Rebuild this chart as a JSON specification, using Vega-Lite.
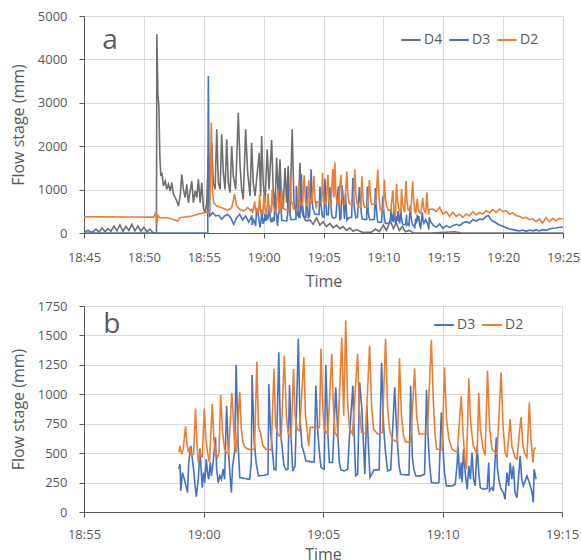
{
  "$schema": "https://vega.github.io/schema/vega-lite/v6.json",
  "padding": {"left": 10, "top": 10, "right": 2, "bottom": 2},
  "spacing": 11,
  "config": {
    "view": {"stroke": null},
    "axis": {"labelFont": "Open Sans", "labelFontSize": 13, "labelColor": "#595959", "titleFont": "Open Sans", "titleFontSize": 16, "titleFontWeight": "normal", "titleColor": "#595959", "gridColor": "#d9d9d9", "domainColor": "#595959", "tickColor": "#595959", "tickSize": 5, "labelFlush": false, "labelOverlap": false},
    "legend": {"labelFont": "Open Sans", "labelFontSize": 14, "labelColor": "#595959", "symbolType": "stroke", "symbolStrokeWidth": 2, "symbolSize": 380, "labelOffset": 2, "columnPadding": 2}
  },
  "resolve": {"scale": {"color": "independent"}},
  "vconcat": [
    {
      "width": 479, "height": 217,
      "data": {"name": "flow"},
      "encoding": {
        "x": {"field": "t", "type": "temporal", "scale": {"domain": [{"year": 2024, "month": 1, "date": 1, "hours": 18, "minutes": 45}, {"year": 2024, "month": 1, "date": 1, "hours": 19, "minutes": 25}]}, "axis": {"title": "Time", "format": "%H:%M", "tickCount": 8, "labelPadding": 13, "titlePadding": 9}},
        "y": {"field": "v", "type": "quantitative", "scale": {"domain": [0, 5000], "nice": false}, "axis": {"title": "Flow stage (mm)", "values": [0, 1000, 2000, 3000, 4000, 5000], "format": "d", "labelPadding": 12, "titlePadding": 11}}
      },
      "layer": [
        {"transform": [{"filter": "datum.s == 'D4'"}], "mark": {"type": "line", "strokeWidth": 1.6}, "encoding": {"color": {"field": "s", "type": "nominal", "scale": {"domain": ["D4", "D3", "D2"], "range": ["#6f6f6f", "#4472c4", "#ed7d31"]}, "legend": {"title": null, "orient": "none", "direction": "horizontal", "legendX": 316, "legendY": 13}}}},
        {"transform": [{"filter": "datum.s == 'D3'"}], "mark": {"type": "line", "strokeWidth": 1.6}, "encoding": {"color": {"field": "s", "type": "nominal"}}},
        {"transform": [{"filter": "datum.s == 'D2'"}], "mark": {"type": "line", "strokeWidth": 1.6}, "encoding": {"color": {"field": "s", "type": "nominal"}}},
        {"data": {"values": [{"t": "2024-01-01T18:47:10", "v": 4240, "label": "a"}]}, "mark": {"type": "text", "font": "Open Sans", "fontSize": 28, "color": "#595959", "align": "center", "baseline": "alphabetic"}, "encoding": {"text": {"field": "label", "type": "nominal"}}}
      ]
    },
    {
      "width": 478, "height": 206,
      "data": {"name": "flow"},
      "encoding": {
        "x": {"field": "t", "type": "temporal", "scale": {"domain": [{"year": 2024, "month": 1, "date": 1, "hours": 18, "minutes": 55}, {"year": 2024, "month": 1, "date": 1, "hours": 19, "minutes": 15}]}, "axis": {"title": "Time", "format": "%H:%M", "tickCount": 4, "labelPadding": 11, "titlePadding": 5}},
        "y": {"field": "v", "type": "quantitative", "scale": {"domain": [0, 1750], "nice": false}, "axis": {"title": "Flow stage (mm)", "values": [0, 250, 500, 750, 1000, 1250, 1500, 1750], "format": "d", "labelPadding": 12, "titlePadding": 11}}
      },
      "layer": [
        {"transform": [{"filter": "datum.s == 'D3' && time(toDate(datum.t)) >= time(datetime(2024, 0, 1, 18, 58, 55, 0)) && time(toDate(datum.t)) <= time(datetime(2024, 0, 1, 19, 13, 57, 0))"}], "mark": {"type": "line", "strokeWidth": 1.6}, "encoding": {"color": {"field": "s", "type": "nominal", "scale": {"domain": ["D3", "D2"], "range": ["#4472c4", "#ed7d31"]}, "legend": {"title": null, "orient": "none", "direction": "horizontal", "legendX": 349, "legendY": 8}}}},
        {"transform": [{"filter": "datum.s == 'D2' && time(toDate(datum.t)) >= time(datetime(2024, 0, 1, 18, 58, 55, 0)) && time(toDate(datum.t)) <= time(datetime(2024, 0, 1, 19, 13, 57, 0))"}], "mark": {"type": "line", "strokeWidth": 1.6}, "encoding": {"color": {"field": "s", "type": "nominal"}}},
        {"data": {"values": [{"t": "2024-01-01T18:56:10", "v": 1521, "label": "b"}]}, "mark": {"type": "text", "font": "Open Sans", "fontSize": 28, "color": "#595959", "align": "center", "baseline": "alphabetic"}, "encoding": {"text": {"field": "label", "type": "nominal"}}}
      ]
    }
  ],
  "datasets": {
    "flow": [
      {"s":"D4","t":"2024-01-01T18:45:00","v":20},{"s":"D4","t":"2024-01-01T18:45:20","v":60},{"s":"D4","t":"2024-01-01T18:45:40","v":10},{"s":"D4","t":"2024-01-01T18:46:00","v":90},{"s":"D4","t":"2024-01-01T18:46:15","v":20},{"s":"D4","t":"2024-01-01T18:46:30","v":120},{"s":"D4","t":"2024-01-01T18:46:45","v":30},{"s":"D4","t":"2024-01-01T18:47:00","v":100},{"s":"D4","t":"2024-01-01T18:47:15","v":40},{"s":"D4","t":"2024-01-01T18:47:30","v":160},{"s":"D4","t":"2024-01-01T18:47:45","v":50},{"s":"D4","t":"2024-01-01T18:48:00","v":190},{"s":"D4","t":"2024-01-01T18:48:15","v":40},{"s":"D4","t":"2024-01-01T18:48:30","v":150},{"s":"D4","t":"2024-01-01T18:48:45","v":60},{"s":"D4","t":"2024-01-01T18:49:00","v":200},{"s":"D4","t":"2024-01-01T18:49:15","v":50},{"s":"D4","t":"2024-01-01T18:49:30","v":160},{"s":"D4","t":"2024-01-01T18:49:45","v":40},{"s":"D4","t":"2024-01-01T18:50:00","v":130},{"s":"D4","t":"2024-01-01T18:50:15","v":30},{"s":"D4","t":"2024-01-01T18:50:30","v":90},{"s":"D4","t":"2024-01-01T18:50:45","v":10},{"s":"D4","t":"2024-01-01T18:51:00","v":0},{"s":"D4","t":"2024-01-01T18:51:03","v":0},
      {"s":"D4","t":"2024-01-01T18:51:05","v":4577},{"s":"D4","t":"2024-01-01T18:51:10","v":3233},{"s":"D4","t":"2024-01-01T18:51:15","v":2926},{"s":"D4","t":"2024-01-01T18:51:20","v":1774},{"s":"D4","t":"2024-01-01T18:51:25","v":1313},{"s":"D4","t":"2024-01-01T18:51:30","v":1390},{"s":"D4","t":"2024-01-01T18:51:38","v":1083},{"s":"D4","t":"2024-01-01T18:51:47","v":1198},{"s":"D4","t":"2024-01-01T18:51:55","v":1006},{"s":"D4","t":"2024-01-01T18:52:03","v":1121},{"s":"D4","t":"2024-01-01T18:52:12","v":968},{"s":"D4","t":"2024-01-01T18:52:20","v":1160},{"s":"D4","t":"2024-01-01T18:52:28","v":891},{"s":"D4","t":"2024-01-01T18:52:37","v":814},{"s":"D4","t":"2024-01-01T18:52:45","v":737},{"s":"D4","t":"2024-01-01T18:52:53","v":622},{"s":"D4","t":"2024-01-01T18:53:02","v":852},{"s":"D4","t":"2024-01-01T18:53:10","v":1352},{"s":"D4","t":"2024-01-01T18:53:18","v":1006},{"s":"D4","t":"2024-01-01T18:53:27","v":814},{"s":"D4","t":"2024-01-01T18:53:35","v":1121},{"s":"D4","t":"2024-01-01T18:53:43","v":699},{"s":"D4","t":"2024-01-01T18:53:52","v":968},{"s":"D4","t":"2024-01-01T18:54:00","v":1198},{"s":"D4","t":"2024-01-01T18:54:08","v":699},{"s":"D4","t":"2024-01-01T18:54:17","v":968},{"s":"D4","t":"2024-01-01T18:54:25","v":814},{"s":"D4","t":"2024-01-01T18:54:33","v":1236},{"s":"D4","t":"2024-01-01T18:54:42","v":699},{"s":"D4","t":"2024-01-01T18:54:50","v":1160},{"s":"D4","t":"2024-01-01T18:54:58","v":584},{"s":"D4","t":"2024-01-01T18:55:07","v":468},{"s":"D4","t":"2024-01-01T18:55:15","v":699},{"s":"D4","t":"2024-01-01T18:55:23","v":1774},{"s":"D4","t":"2024-01-01T18:55:32","v":1006},{"s":"D4","t":"2024-01-01T18:55:40","v":2081},{"s":"D4","t":"2024-01-01T18:55:48","v":1160},{"s":"D4","t":"2024-01-01T18:55:57","v":1006},{"s":"D4","t":"2024-01-01T18:56:05","v":2388},{"s":"D4","t":"2024-01-01T18:56:13","v":1160},{"s":"D4","t":"2024-01-01T18:56:22","v":1006},{"s":"D4","t":"2024-01-01T18:56:30","v":2273},{"s":"D4","t":"2024-01-01T18:56:38","v":1390},{"s":"D4","t":"2024-01-01T18:56:47","v":1006},{"s":"D4","t":"2024-01-01T18:56:55","v":2158},{"s":"D4","t":"2024-01-01T18:57:03","v":1160},{"s":"D4","t":"2024-01-01T18:57:12","v":929},{"s":"D4","t":"2024-01-01T18:57:20","v":2004},{"s":"D4","t":"2024-01-01T18:57:28","v":1313},{"s":"D4","t":"2024-01-01T18:57:40","v":1006},{"s":"D4","t":"2024-01-01T18:57:53","v":2772},{"s":"D4","t":"2024-01-01T18:58:02","v":1544},{"s":"D4","t":"2024-01-01T18:58:10","v":1006},{"s":"D4","t":"2024-01-01T18:58:18","v":776},{"s":"D4","t":"2024-01-01T18:58:30","v":2388},{"s":"D4","t":"2024-01-01T18:58:40","v":1390},{"s":"D4","t":"2024-01-01T18:58:52","v":852},{"s":"D4","t":"2024-01-01T18:59:00","v":2081},{"s":"D4","t":"2024-01-01T18:59:08","v":1160},{"s":"D4","t":"2024-01-01T18:59:17","v":852},
      {"s":"D4","t":"2024-01-01T18:59:38","v":1851},{"s":"D4","t":"2024-01-01T18:59:45","v":852},{"s":"D4","t":"2024-01-01T18:59:50","v":2235},{"s":"D4","t":"2024-01-01T18:59:58","v":1160},{"s":"D4","t":"2024-01-01T19:00:07","v":699},{"s":"D4","t":"2024-01-01T19:00:18","v":1928},{"s":"D4","t":"2024-01-01T19:00:27","v":1006},{"s":"D4","t":"2024-01-01T19:00:40","v":2143},{"s":"D4","t":"2024-01-01T19:00:48","v":1006},{"s":"D4","t":"2024-01-01T19:00:57","v":545},{"s":"D4","t":"2024-01-01T19:01:05","v":1736},{"s":"D4","t":"2024-01-01T19:01:13","v":852},{"s":"D4","t":"2024-01-01T19:01:22","v":1697},{"s":"D4","t":"2024-01-01T19:01:30","v":699},{"s":"D4","t":"2024-01-01T19:01:38","v":545},{"s":"D4","t":"2024-01-01T19:01:47","v":1505},{"s":"D4","t":"2024-01-01T19:01:55","v":699},{"s":"D4","t":"2024-01-01T19:02:03","v":1544},{"s":"D4","t":"2024-01-01T19:02:12","v":468},{"s":"D4","t":"2024-01-01T19:02:23","v":2388},{"s":"D4","t":"2024-01-01T19:02:32","v":699},{"s":"D4","t":"2024-01-01T19:02:42","v":468},{"s":"D4","t":"2024-01-01T19:02:53","v":392},{"s":"D4","t":"2024-01-01T19:03:02","v":1620},{"s":"D4","t":"2024-01-01T19:03:10","v":545},{"s":"D4","t":"2024-01-01T19:03:18","v":392},{"s":"D4","t":"2024-01-01T19:03:27","v":315},{"s":"D4","t":"2024-01-01T19:03:35","v":276},{"s":"D4","t":"2024-01-01T19:03:52","v":300},{"s":"D4","t":"2024-01-01T19:04:08","v":200},{"s":"D4","t":"2024-01-01T19:04:25","v":350},{"s":"D4","t":"2024-01-01T19:04:42","v":180},{"s":"D4","t":"2024-01-01T19:04:58","v":260},{"s":"D4","t":"2024-01-01T19:05:15","v":150},{"s":"D4","t":"2024-01-01T19:05:32","v":220},{"s":"D4","t":"2024-01-01T19:05:48","v":120},{"s":"D4","t":"2024-01-01T19:06:05","v":180},{"s":"D4","t":"2024-01-01T19:06:22","v":100},{"s":"D4","t":"2024-01-01T19:06:38","v":150},{"s":"D4","t":"2024-01-01T19:06:55","v":60},{"s":"D4","t":"2024-01-01T19:07:12","v":120},{"s":"D4","t":"2024-01-01T19:07:28","v":40},{"s":"D4","t":"2024-01-01T19:07:45","v":80},{"s":"D4","t":"2024-01-01T19:08:18","v":10},{"s":"D4","t":"2024-01-01T19:09:00","v":20},{"s":"D4","t":"2024-01-01T19:09:20","v":92},{"s":"D4","t":"2024-01-01T19:09:40","v":30},{"s":"D4","t":"2024-01-01T19:10:00","v":184},{"s":"D4","t":"2024-01-01T19:10:15","v":60},{"s":"D4","t":"2024-01-01T19:10:35","v":284},{"s":"D4","t":"2024-01-01T19:10:50","v":100},{"s":"D4","t":"2024-01-01T19:11:05","v":230},{"s":"D4","t":"2024-01-01T19:11:20","v":60},{"s":"D4","t":"2024-01-01T19:11:35","v":150},{"s":"D4","t":"2024-01-01T19:11:50","v":30},{"s":"D4","t":"2024-01-01T19:12:10","v":60},{"s":"D4","t":"2024-01-01T19:12:30","v":0},{"s":"D4","t":"2024-01-01T19:14:00","v":0},{"s":"D4","t":"2024-01-01T19:16:00","v":30},{"s":"D4","t":"2024-01-01T19:16:30","v":0},{"s":"D4","t":"2024-01-01T19:25:00","v":0},

      {"s":"D3","t":"2024-01-01T18:45:00","v":0},{"s":"D3","t":"2024-01-01T18:51:00","v":0},{"s":"D3","t":"2024-01-01T18:55:20","v":0},{"s":"D3","t":"2024-01-01T18:55:23","v":3617},{"s":"D3","t":"2024-01-01T18:55:27","v":1006},{"s":"D3","t":"2024-01-01T18:55:30","v":392},{"s":"D3","t":"2024-01-01T18:55:45","v":468},{"s":"D3","t":"2024-01-01T18:56:00","v":392},{"s":"D3","t":"2024-01-01T18:56:15","v":407},{"s":"D3","t":"2024-01-01T18:56:30","v":315},{"s":"D3","t":"2024-01-01T18:56:45","v":392},{"s":"D3","t":"2024-01-01T18:57:00","v":430},{"s":"D3","t":"2024-01-01T18:57:15","v":353},{"s":"D3","t":"2024-01-01T18:57:30","v":200},{"s":"D3","t":"2024-01-01T18:57:45","v":353},{"s":"D3","t":"2024-01-01T18:58:00","v":430},{"s":"D3","t":"2024-01-01T18:58:15","v":300},{"s":"D3","t":"2024-01-01T18:58:30","v":392},{"s":"D3","t":"2024-01-01T18:58:45","v":253},
      {"s":"D3","t":"2024-01-01T18:58:58","v":364},{"s":"D3","t":"2024-01-01T18:59:01","v":406},{"s":"D3","t":"2024-01-01T18:59:03","v":179},{"s":"D3","t":"2024-01-01T18:59:07","v":335},{"s":"D3","t":"2024-01-01T18:59:12","v":278},{"s":"D3","t":"2024-01-01T18:59:16","v":222},{"s":"D3","t":"2024-01-01T18:59:20","v":165},{"s":"D3","t":"2024-01-01T18:59:23","v":420},{"s":"D3","t":"2024-01-01T18:59:28","v":562},{"s":"D3","t":"2024-01-01T18:59:32","v":449},{"s":"D3","t":"2024-01-01T18:59:35","v":364},{"s":"D3","t":"2024-01-01T18:59:38","v":250},{"s":"D3","t":"2024-01-01T18:59:42","v":131},{"s":"D3","t":"2024-01-01T18:59:47","v":278},{"s":"D3","t":"2024-01-01T18:59:51","v":540},{"s":"D3","t":"2024-01-01T18:59:53","v":420},{"s":"D3","t":"2024-01-01T18:59:57","v":207},{"s":"D3","t":"2024-01-01T19:00:00","v":335},{"s":"D3","t":"2024-01-01T19:00:03","v":250},{"s":"D3","t":"2024-01-01T19:00:07","v":449},{"s":"D3","t":"2024-01-01T19:00:10","v":335},{"s":"D3","t":"2024-01-01T19:00:13","v":278},{"s":"D3","t":"2024-01-01T19:00:17","v":420},{"s":"D3","t":"2024-01-01T19:00:20","v":307},{"s":"D3","t":"2024-01-01T19:00:24","v":420},{"s":"D3","t":"2024-01-01T19:00:30","v":633},{"s":"D3","t":"2024-01-01T19:00:33","v":364},{"s":"D3","t":"2024-01-01T19:00:37","v":250},{"s":"D3","t":"2024-01-01T19:00:41","v":307},{"s":"D3","t":"2024-01-01T19:00:45","v":278},{"s":"D3","t":"2024-01-01T19:00:49","v":364},{"s":"D3","t":"2024-01-01T19:00:53","v":278},{"s":"D3","t":"2024-01-01T19:00:58","v":903},{"s":"D3","t":"2024-01-01T19:01:02","v":562},{"s":"D3","t":"2024-01-01T19:01:06","v":335},{"s":"D3","t":"2024-01-01T19:01:10","v":165},{"s":"D3","t":"2024-01-01T19:01:13","v":392},{"s":"D3","t":"2024-01-01T19:01:18","v":506},{"s":"D3","t":"2024-01-01T19:01:22","v":1250},{"s":"D3","t":"2024-01-01T19:01:27","v":562},{"s":"D3","t":"2024-01-01T19:01:31","v":293},{"s":"D3","t":"2024-01-01T19:01:43","v":284},{"s":"D3","t":"2024-01-01T19:01:56","v":278},{"s":"D3","t":"2024-01-01T19:02:00","v":420},{"s":"D3","t":"2024-01-01T19:02:02","v":1164},{"s":"D3","t":"2024-01-01T19:02:07","v":619},{"s":"D3","t":"2024-01-01T19:02:12","v":420},{"s":"D3","t":"2024-01-01T19:02:18","v":307},{"s":"D3","t":"2024-01-01T19:02:33","v":312},{"s":"D3","t":"2024-01-01T19:02:42","v":321},{"s":"D3","t":"2024-01-01T19:02:44","v":1088},{"s":"D3","t":"2024-01-01T19:02:48","v":704},{"s":"D3","t":"2024-01-01T19:02:52","v":562},{"s":"D3","t":"2024-01-01T19:02:57","v":364},{"s":"D3","t":"2024-01-01T19:03:02","v":358},{"s":"D3","t":"2024-01-01T19:03:09","v":1358},{"s":"D3","t":"2024-01-01T19:03:13","v":676},{"s":"D3","t":"2024-01-01T19:03:17","v":562},{"s":"D3","t":"2024-01-01T19:03:22","v":392},{"s":"D3","t":"2024-01-01T19:03:27","v":358},{"s":"D3","t":"2024-01-01T19:03:32","v":364},{"s":"D3","t":"2024-01-01T19:03:36","v":1079},{"s":"D3","t":"2024-01-01T19:03:40","v":619},{"s":"D3","t":"2024-01-01T19:03:44","v":349},
      {"s":"D3","t":"2024-01-01T19:03:50","v":392},{"s":"D3","t":"2024-01-01T19:03:58","v":1471},{"s":"D3","t":"2024-01-01T19:04:02","v":818},{"s":"D3","t":"2024-01-01T19:04:07","v":562},{"s":"D3","t":"2024-01-01T19:04:12","v":506},{"s":"D3","t":"2024-01-01T19:04:17","v":434},{"s":"D3","t":"2024-01-01T19:04:30","v":426},{"s":"D3","t":"2024-01-01T19:04:38","v":426},{"s":"D3","t":"2024-01-01T19:04:42","v":1073},{"s":"D3","t":"2024-01-01T19:04:47","v":676},{"s":"D3","t":"2024-01-01T19:04:51","v":506},{"s":"D3","t":"2024-01-01T19:04:55","v":378},{"s":"D3","t":"2024-01-01T19:05:03","v":364},{"s":"D3","t":"2024-01-01T19:05:07","v":1250},{"s":"D3","t":"2024-01-01T19:05:12","v":676},{"s":"D3","t":"2024-01-01T19:05:16","v":420},{"s":"D3","t":"2024-01-01T19:05:24","v":420},{"s":"D3","t":"2024-01-01T19:05:32","v":1059},{"s":"D3","t":"2024-01-01T19:05:37","v":676},{"s":"D3","t":"2024-01-01T19:05:41","v":420},{"s":"D3","t":"2024-01-01T19:05:45","v":358},{"s":"D3","t":"2024-01-01T19:05:53","v":349},{"s":"D3","t":"2024-01-01T19:06:02","v":364},{"s":"D3","t":"2024-01-01T19:06:06","v":619},{"s":"D3","t":"2024-01-01T19:06:15","v":1073},{"s":"D3","t":"2024-01-01T19:06:18","v":676},{"s":"D3","t":"2024-01-01T19:06:22","v":307},{"s":"D3","t":"2024-01-01T19:06:27","v":321},{"s":"D3","t":"2024-01-01T19:06:32","v":1102},{"s":"D3","t":"2024-01-01T19:06:37","v":903},{"s":"D3","t":"2024-01-01T19:06:41","v":619},{"s":"D3","t":"2024-01-01T19:06:45","v":321},{"s":"D3","t":"2024-01-01T19:06:50","v":903},{"s":"D3","t":"2024-01-01T19:06:54","v":562},{"s":"D3","t":"2024-01-01T19:06:58","v":293},{"s":"D3","t":"2024-01-01T19:07:08","v":358},{"s":"D3","t":"2024-01-01T19:07:21","v":358},{"s":"D3","t":"2024-01-01T19:07:27","v":1267},{"s":"D3","t":"2024-01-01T19:07:32","v":733},{"s":"D3","t":"2024-01-01T19:07:37","v":506},{"s":"D3","t":"2024-01-01T19:07:42","v":349},{"s":"D3","t":"2024-01-01T19:07:50","v":358},{"s":"D3","t":"2024-01-01T19:08:00","v":1059},{"s":"D3","t":"2024-01-01T19:08:05","v":676},{"s":"D3","t":"2024-01-01T19:08:11","v":392},{"s":"D3","t":"2024-01-01T19:08:15","v":321},{"s":"D3","t":"2024-01-01T19:08:27","v":315},{"s":"D3","t":"2024-01-01T19:08:36","v":315},{"s":"D3","t":"2024-01-01T19:08:40","v":1073},
      {"s":"D3","t":"2024-01-01T19:08:44","v":477},{"s":"D3","t":"2024-01-01T19:08:48","v":364},{"s":"D3","t":"2024-01-01T19:08:53","v":307},{"s":"D3","t":"2024-01-01T19:09:05","v":307},{"s":"D3","t":"2024-01-01T19:09:15","v":321},{"s":"D3","t":"2024-01-01T19:09:20","v":1039},{"s":"D3","t":"2024-01-01T19:09:23","v":676},{"s":"D3","t":"2024-01-01T19:09:28","v":392},{"s":"D3","t":"2024-01-01T19:09:32","v":250},{"s":"D3","t":"2024-01-01T19:09:43","v":244},{"s":"D3","t":"2024-01-01T19:09:51","v":250},{"s":"D3","t":"2024-01-01T19:09:57","v":846},{"s":"D3","t":"2024-01-01T19:10:01","v":562},{"s":"D3","t":"2024-01-01T19:10:05","v":335},{"s":"D3","t":"2024-01-01T19:10:10","v":222},{"s":"D3","t":"2024-01-01T19:10:24","v":222},{"s":"D3","t":"2024-01-01T19:10:32","v":236},{"s":"D3","t":"2024-01-01T19:10:37","v":420},{"s":"D3","t":"2024-01-01T19:10:39","v":562},{"s":"D3","t":"2024-01-01T19:10:43","v":278},{"s":"D3","t":"2024-01-01T19:10:47","v":420},{"s":"D3","t":"2024-01-01T19:10:49","v":250},{"s":"D3","t":"2024-01-01T19:10:53","v":534},{"s":"D3","t":"2024-01-01T19:10:57","v":335},{"s":"D3","t":"2024-01-01T19:11:02","v":193},{"s":"D3","t":"2024-01-01T19:11:06","v":392},{"s":"D3","t":"2024-01-01T19:11:10","v":278},{"s":"D3","t":"2024-01-01T19:11:14","v":506},{"s":"D3","t":"2024-01-01T19:11:18","v":278},{"s":"D3","t":"2024-01-01T19:11:22","v":222},{"s":"D3","t":"2024-01-01T19:11:27","v":562},{"s":"D3","t":"2024-01-01T19:11:31","v":335},{"s":"D3","t":"2024-01-01T19:11:35","v":207},{"s":"D3","t":"2024-01-01T19:11:43","v":193},{"s":"D3","t":"2024-01-01T19:11:52","v":199},{"s":"D3","t":"2024-01-01T19:11:56","v":420},{"s":"D3","t":"2024-01-01T19:11:58","v":179},{"s":"D3","t":"2024-01-01T19:12:04","v":207},{"s":"D3","t":"2024-01-01T19:12:08","v":179},{"s":"D3","t":"2024-01-01T19:12:15","v":633},{"s":"D3","t":"2024-01-01T19:12:18","v":364},{"s":"D3","t":"2024-01-01T19:12:23","v":250},{"s":"D3","t":"2024-01-01T19:12:27","v":193},{"s":"D3","t":"2024-01-01T19:12:33","v":165},{"s":"D3","t":"2024-01-01T19:12:37","v":108},{"s":"D3","t":"2024-01-01T19:12:42","v":335},{"s":"D3","t":"2024-01-01T19:12:46","v":222},{"s":"D3","t":"2024-01-01T19:12:50","v":420},{"s":"D3","t":"2024-01-01T19:12:54","v":278},{"s":"D3","t":"2024-01-01T19:12:58","v":392},{"s":"D3","t":"2024-01-01T19:13:02","v":165},{"s":"D3","t":"2024-01-01T19:13:07","v":122},{"s":"D3","t":"2024-01-01T19:13:15","v":477},{"s":"D3","t":"2024-01-01T19:13:19","v":278},{"s":"D3","t":"2024-01-01T19:13:23","v":222},{"s":"D3","t":"2024-01-01T19:13:32","v":307},{"s":"D3","t":"2024-01-01T19:13:38","v":250},{"s":"D3","t":"2024-01-01T19:13:44","v":179},{"s":"D3","t":"2024-01-01T19:13:48","v":80},{"s":"D3","t":"2024-01-01T19:13:50","v":364},{"s":"D3","t":"2024-01-01T19:13:55","v":278},
      {"s":"D3","t":"2024-01-01T19:14:08","v":184},{"s":"D3","t":"2024-01-01T19:14:25","v":131},{"s":"D3","t":"2024-01-01T19:14:42","v":207},{"s":"D3","t":"2024-01-01T19:14:58","v":108},{"s":"D3","t":"2024-01-01T19:15:15","v":169},{"s":"D3","t":"2024-01-01T19:15:32","v":123},{"s":"D3","t":"2024-01-01T19:15:48","v":169},{"s":"D3","t":"2024-01-01T19:16:05","v":200},{"s":"D3","t":"2024-01-01T19:16:22","v":169},{"s":"D3","t":"2024-01-01T19:16:38","v":230},{"s":"D3","t":"2024-01-01T19:16:55","v":261},{"s":"D3","t":"2024-01-01T19:17:12","v":230},{"s":"D3","t":"2024-01-01T19:17:28","v":307},{"s":"D3","t":"2024-01-01T19:17:45","v":276},{"s":"D3","t":"2024-01-01T19:18:02","v":323},{"s":"D3","t":"2024-01-01T19:18:18","v":307},{"s":"D3","t":"2024-01-01T19:18:35","v":384},{"s":"D3","t":"2024-01-01T19:18:47","v":399},{"s":"D3","t":"2024-01-01T19:18:57","v":323},{"s":"D3","t":"2024-01-01T19:19:08","v":276},{"s":"D3","t":"2024-01-01T19:19:25","v":230},{"s":"D3","t":"2024-01-01T19:19:42","v":184},{"s":"D3","t":"2024-01-01T19:19:58","v":154},{"s":"D3","t":"2024-01-01T19:20:15","v":123},{"s":"D3","t":"2024-01-01T19:20:32","v":92},{"s":"D3","t":"2024-01-01T19:20:48","v":77},{"s":"D3","t":"2024-01-01T19:21:05","v":61},{"s":"D3","t":"2024-01-01T19:21:22","v":46},{"s":"D3","t":"2024-01-01T19:21:38","v":69},{"s":"D3","t":"2024-01-01T19:21:55","v":38},{"s":"D3","t":"2024-01-01T19:22:12","v":69},{"s":"D3","t":"2024-01-01T19:22:28","v":46},{"s":"D3","t":"2024-01-01T19:22:45","v":77},{"s":"D3","t":"2024-01-01T19:23:02","v":46},{"s":"D3","t":"2024-01-01T19:23:18","v":77},{"s":"D3","t":"2024-01-01T19:23:35","v":61},{"s":"D3","t":"2024-01-01T19:23:52","v":92},{"s":"D3","t":"2024-01-01T19:24:08","v":108},{"s":"D3","t":"2024-01-01T19:24:25","v":115},{"s":"D3","t":"2024-01-01T19:24:42","v":131},{"s":"D3","t":"2024-01-01T19:25:00","v":138},

      {"s":"D2","t":"2024-01-01T18:45:00","v":375},{"s":"D2","t":"2024-01-01T18:47:00","v":372},{"s":"D2","t":"2024-01-01T18:49:00","v":370},{"s":"D2","t":"2024-01-01T18:50:50","v":365},{"s":"D2","t":"2024-01-01T18:51:00","v":468},{"s":"D2","t":"2024-01-01T18:51:05","v":200},{"s":"D2","t":"2024-01-01T18:51:10","v":407},{"s":"D2","t":"2024-01-01T18:51:20","v":353},{"s":"D2","t":"2024-01-01T18:52:00","v":353},{"s":"D2","t":"2024-01-01T18:52:50","v":276},{"s":"D2","t":"2024-01-01T18:53:00","v":353},{"s":"D2","t":"2024-01-01T18:54:00","v":392},{"s":"D2","t":"2024-01-01T18:54:30","v":430},{"s":"D2","t":"2024-01-01T18:55:00","v":468},{"s":"D2","t":"2024-01-01T18:55:30","v":484},{"s":"D2","t":"2024-01-01T18:55:38","v":2542},{"s":"D2","t":"2024-01-01T18:55:43","v":1006},{"s":"D2","t":"2024-01-01T18:55:50","v":699},{"s":"D2","t":"2024-01-01T18:56:05","v":622},{"s":"D2","t":"2024-01-01T18:56:30","v":584},{"s":"D2","t":"2024-01-01T18:57:00","v":522},{"s":"D2","t":"2024-01-01T18:57:20","v":584},{"s":"D2","t":"2024-01-01T18:57:35","v":891},{"s":"D2","t":"2024-01-01T18:57:45","v":622},{"s":"D2","t":"2024-01-01T18:58:00","v":545},{"s":"D2","t":"2024-01-01T18:58:20","v":507},{"s":"D2","t":"2024-01-01T18:58:40","v":584},
      {"s":"D2","t":"2024-01-01T18:58:58","v":506},{"s":"D2","t":"2024-01-01T18:59:01","v":562},{"s":"D2","t":"2024-01-01T18:59:05","v":491},{"s":"D2","t":"2024-01-01T18:59:09","v":534},{"s":"D2","t":"2024-01-01T18:59:15","v":727},{"s":"D2","t":"2024-01-01T18:59:18","v":591},{"s":"D2","t":"2024-01-01T18:59:22","v":506},{"s":"D2","t":"2024-01-01T18:59:26","v":548},{"s":"D2","t":"2024-01-01T18:59:30","v":477},{"s":"D2","t":"2024-01-01T18:59:35","v":491},{"s":"D2","t":"2024-01-01T18:59:40","v":880},{"s":"D2","t":"2024-01-01T18:59:43","v":619},{"s":"D2","t":"2024-01-01T18:59:47","v":420},{"s":"D2","t":"2024-01-01T18:59:52","v":506},{"s":"D2","t":"2024-01-01T18:59:57","v":463},{"s":"D2","t":"2024-01-01T19:00:02","v":880},{"s":"D2","t":"2024-01-01T19:00:06","v":619},{"s":"D2","t":"2024-01-01T19:00:10","v":506},{"s":"D2","t":"2024-01-01T19:00:15","v":420},{"s":"D2","t":"2024-01-01T19:00:22","v":917},{"s":"D2","t":"2024-01-01T19:00:26","v":619},{"s":"D2","t":"2024-01-01T19:00:30","v":506},{"s":"D2","t":"2024-01-01T19:00:35","v":463},{"s":"D2","t":"2024-01-01T19:00:39","v":506},{"s":"D2","t":"2024-01-01T19:00:43","v":994},{"s":"D2","t":"2024-01-01T19:00:48","v":676},{"s":"D2","t":"2024-01-01T19:00:53","v":534},{"s":"D2","t":"2024-01-01T19:00:58","v":506},{"s":"D2","t":"2024-01-01T19:01:03","v":491},{"s":"D2","t":"2024-01-01T19:01:11","v":1011},{"s":"D2","t":"2024-01-01T19:01:15","v":790},{"s":"D2","t":"2024-01-01T19:01:18","v":562},{"s":"D2","t":"2024-01-01T19:01:22","v":506},{"s":"D2","t":"2024-01-01T19:01:31","v":1022},{"s":"D2","t":"2024-01-01T19:01:35","v":704},{"s":"D2","t":"2024-01-01T19:01:39","v":591},{"s":"D2","t":"2024-01-01T19:01:45","v":548},{"s":"D2","t":"2024-01-01T19:01:52","v":534},{"s":"D2","t":"2024-01-01T19:02:00","v":528},{"s":"D2","t":"2024-01-01T19:02:08","v":534},{"s":"D2","t":"2024-01-01T19:02:14","v":1278},{"s":"D2","t":"2024-01-01T19:02:18","v":719},{"s":"D2","t":"2024-01-01T19:02:23","v":676},{"s":"D2","t":"2024-01-01T19:02:29","v":562},{"s":"D2","t":"2024-01-01T19:02:37","v":534},{"s":"D2","t":"2024-01-01T19:02:50","v":528},{"s":"D2","t":"2024-01-01T19:02:57","v":1216},{"s":"D2","t":"2024-01-01T19:03:01","v":733},{"s":"D2","t":"2024-01-01T19:03:07","v":662},{"s":"D2","t":"2024-01-01T19:03:15","v":633},{"s":"D2","t":"2024-01-01T19:03:23","v":1329},{"s":"D2","t":"2024-01-01T19:03:28","v":818},{"s":"D2","t":"2024-01-01T19:03:33","v":662},{"s":"D2","t":"2024-01-01T19:03:40","v":633},{"s":"D2","t":"2024-01-01T19:03:46","v":1216},{"s":"D2","t":"2024-01-01T19:03:50","v":818},
      {"s":"D2","t":"2024-01-01T19:03:55","v":704},{"s":"D2","t":"2024-01-01T19:04:01","v":690},{"s":"D2","t":"2024-01-01T19:04:12","v":1315},{"s":"D2","t":"2024-01-01T19:04:16","v":818},{"s":"D2","t":"2024-01-01T19:04:20","v":704},{"s":"D2","t":"2024-01-01T19:04:24","v":562},{"s":"D2","t":"2024-01-01T19:04:28","v":719},{"s":"D2","t":"2024-01-01T19:04:38","v":719},{"s":"D2","t":"2024-01-01T19:04:51","v":719},{"s":"D2","t":"2024-01-01T19:04:55","v":1386},{"s":"D2","t":"2024-01-01T19:04:59","v":903},{"s":"D2","t":"2024-01-01T19:05:03","v":704},{"s":"D2","t":"2024-01-01T19:05:12","v":662},{"s":"D2","t":"2024-01-01T19:05:22","v":1343},{"s":"D2","t":"2024-01-01T19:05:26","v":903},{"s":"D2","t":"2024-01-01T19:05:30","v":676},{"s":"D2","t":"2024-01-01T19:05:37","v":633},{"s":"D2","t":"2024-01-01T19:05:47","v":1480},{"s":"D2","t":"2024-01-01T19:05:52","v":818},{"s":"D2","t":"2024-01-01T19:05:57","v":1627},{"s":"D2","t":"2024-01-01T19:06:02","v":903},{"s":"D2","t":"2024-01-01T19:06:07","v":704},{"s":"D2","t":"2024-01-01T19:06:14","v":662},{"s":"D2","t":"2024-01-01T19:06:27","v":1343},{"s":"D2","t":"2024-01-01T19:06:31","v":875},{"s":"D2","t":"2024-01-01T19:06:37","v":676},{"s":"D2","t":"2024-01-01T19:06:47","v":662},{"s":"D2","t":"2024-01-01T19:06:57","v":1414},{"s":"D2","t":"2024-01-01T19:07:02","v":903},{"s":"D2","t":"2024-01-01T19:07:07","v":704},{"s":"D2","t":"2024-01-01T19:07:17","v":662},{"s":"D2","t":"2024-01-01T19:07:29","v":676},{"s":"D2","t":"2024-01-01T19:07:37","v":1471},{"s":"D2","t":"2024-01-01T19:07:42","v":903},{"s":"D2","t":"2024-01-01T19:07:47","v":704},{"s":"D2","t":"2024-01-01T19:07:54","v":619},{"s":"D2","t":"2024-01-01T19:08:07","v":591},{"s":"D2","t":"2024-01-01T19:08:12","v":1306},{"s":"D2","t":"2024-01-01T19:08:17","v":818},{"s":"D2","t":"2024-01-01T19:08:22","v":648},{"s":"D2","t":"2024-01-01T19:08:27","v":596},{"s":"D2","t":"2024-01-01T19:08:40","v":596},
      {"s":"D2","t":"2024-01-01T19:08:50","v":1221},{"s":"D2","t":"2024-01-01T19:08:55","v":818},{"s":"D2","t":"2024-01-01T19:09:01","v":662},{"s":"D2","t":"2024-01-01T19:09:13","v":662},{"s":"D2","t":"2024-01-01T19:09:22","v":670},{"s":"D2","t":"2024-01-01T19:09:32","v":1463},{"s":"D2","t":"2024-01-01T19:09:37","v":932},{"s":"D2","t":"2024-01-01T19:09:41","v":676},{"s":"D2","t":"2024-01-01T19:09:45","v":534},{"s":"D2","t":"2024-01-01T19:09:59","v":528},{"s":"D2","t":"2024-01-01T19:10:05","v":1230},{"s":"D2","t":"2024-01-01T19:10:10","v":790},{"s":"D2","t":"2024-01-01T19:10:16","v":619},{"s":"D2","t":"2024-01-01T19:10:24","v":534},{"s":"D2","t":"2024-01-01T19:10:37","v":506},{"s":"D2","t":"2024-01-01T19:10:47","v":983},{"s":"D2","t":"2024-01-01T19:10:52","v":648},{"s":"D2","t":"2024-01-01T19:10:57","v":420},{"s":"D2","t":"2024-01-01T19:11:00","v":364},{"s":"D2","t":"2024-01-01T19:11:06","v":1136},{"s":"D2","t":"2024-01-01T19:11:10","v":790},{"s":"D2","t":"2024-01-01T19:11:17","v":562},{"s":"D2","t":"2024-01-01T19:11:27","v":491},{"s":"D2","t":"2024-01-01T19:11:31","v":1011},{"s":"D2","t":"2024-01-01T19:11:35","v":704},{"s":"D2","t":"2024-01-01T19:11:42","v":534},{"s":"D2","t":"2024-01-01T19:11:47","v":483},{"s":"D2","t":"2024-01-01T19:11:53","v":1201},{"s":"D2","t":"2024-01-01T19:11:58","v":733},{"s":"D2","t":"2024-01-01T19:12:04","v":534},{"s":"D2","t":"2024-01-01T19:12:17","v":491},{"s":"D2","t":"2024-01-01T19:12:27","v":1187},{"s":"D2","t":"2024-01-01T19:12:32","v":733},{"s":"D2","t":"2024-01-01T19:12:37","v":506},{"s":"D2","t":"2024-01-01T19:12:42","v":463},{"s":"D2","t":"2024-01-01T19:12:50","v":790},{"s":"D2","t":"2024-01-01T19:12:54","v":562},{"s":"D2","t":"2024-01-01T19:13:02","v":463},{"s":"D2","t":"2024-01-01T19:13:07","v":449},{"s":"D2","t":"2024-01-01T19:13:17","v":804},{"s":"D2","t":"2024-01-01T19:13:22","v":562},{"s":"D2","t":"2024-01-01T19:13:27","v":491},{"s":"D2","t":"2024-01-01T19:13:32","v":463},{"s":"D2","t":"2024-01-01T19:13:38","v":932},{"s":"D2","t":"2024-01-01T19:13:42","v":619},{"s":"D2","t":"2024-01-01T19:13:47","v":420},{"s":"D2","t":"2024-01-01T19:13:50","v":534},{"s":"D2","t":"2024-01-01T19:13:55","v":548},
      {"s":"D2","t":"2024-01-01T19:14:08","v":553},{"s":"D2","t":"2024-01-01T19:14:25","v":492},{"s":"D2","t":"2024-01-01T19:14:42","v":591},{"s":"D2","t":"2024-01-01T19:14:58","v":438},{"s":"D2","t":"2024-01-01T19:15:15","v":492},{"s":"D2","t":"2024-01-01T19:15:32","v":384},{"s":"D2","t":"2024-01-01T19:15:48","v":476},{"s":"D2","t":"2024-01-01T19:16:05","v":384},{"s":"D2","t":"2024-01-01T19:16:22","v":438},{"s":"D2","t":"2024-01-01T19:16:38","v":361},{"s":"D2","t":"2024-01-01T19:16:55","v":438},{"s":"D2","t":"2024-01-01T19:17:12","v":399},{"s":"D2","t":"2024-01-01T19:17:28","v":492},{"s":"D2","t":"2024-01-01T19:17:45","v":415},{"s":"D2","t":"2024-01-01T19:18:02","v":476},{"s":"D2","t":"2024-01-01T19:18:18","v":438},{"s":"D2","t":"2024-01-01T19:18:35","v":515},{"s":"D2","t":"2024-01-01T19:18:52","v":461},{"s":"D2","t":"2024-01-01T19:19:08","v":538},{"s":"D2","t":"2024-01-01T19:19:25","v":476},{"s":"D2","t":"2024-01-01T19:19:42","v":553},{"s":"D2","t":"2024-01-01T19:19:58","v":492},{"s":"D2","t":"2024-01-01T19:20:15","v":515},{"s":"D2","t":"2024-01-01T19:20:32","v":438},{"s":"D2","t":"2024-01-01T19:20:48","v":461},{"s":"D2","t":"2024-01-01T19:21:05","v":399},{"s":"D2","t":"2024-01-01T19:21:22","v":384},{"s":"D2","t":"2024-01-01T19:21:38","v":338},{"s":"D2","t":"2024-01-01T19:21:55","v":361},{"s":"D2","t":"2024-01-01T19:22:12","v":307},{"s":"D2","t":"2024-01-01T19:22:28","v":323},{"s":"D2","t":"2024-01-01T19:22:45","v":261},{"s":"D2","t":"2024-01-01T19:23:02","v":323},{"s":"D2","t":"2024-01-01T19:23:18","v":230},{"s":"D2","t":"2024-01-01T19:23:35","v":353},{"s":"D2","t":"2024-01-01T19:23:52","v":261},{"s":"D2","t":"2024-01-01T19:24:08","v":338},{"s":"D2","t":"2024-01-01T19:24:25","v":284},{"s":"D2","t":"2024-01-01T19:24:42","v":338},{"s":"D2","t":"2024-01-01T19:25:00","v":323}
    ]
  }
}
